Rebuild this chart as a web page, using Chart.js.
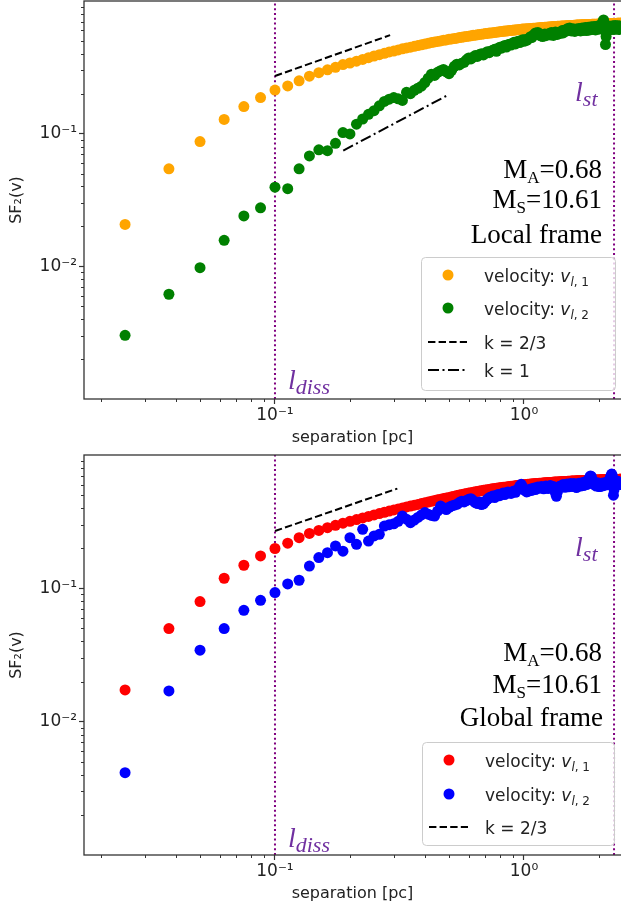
<!DOCTYPE html>
<html>
<head>
<meta charset="utf-8">
<script src="https://cdn.jsdelivr.net/npm/chart.js@4.4.1/dist/chart.umd.min.js"></script>
<style>
html,body{margin:0;padding:0;background:#fff;width:621px;height:911px;overflow:hidden;}
canvas{position:absolute;left:0;}
#top{top:0;}
#bottom{top:450px;}
</style>
</head>
<body>
<canvas id="top" width="621" height="450"></canvas>
<canvas id="bottom" width="621" height="461"></canvas>
<script>
// ---------------- data ----------------
const separations = [
0.025,0.0375,0.05,0.0625,0.075,0.0875,0.1,0.1125,0.125,0.1375,
0.15,0.1625,0.175,0.1875,0.2,0.2125,0.225,0.2375,0.25,0.2625,
0.275,0.2875,0.3,0.3125,0.325,0.3375,0.35,0.3625,0.375,0.3875,
0.4,0.4125,0.425,0.4375,0.45,0.4625,0.475,0.4875,0.5,0.5125,
0.525,0.5375,0.55,0.5625,0.575,0.5875,0.6,0.6125,0.625,0.6375,
0.65,0.6625,0.675,0.6875,0.7,0.7125,0.725,0.7375,0.75,0.7625,
0.775,0.7875,0.8,0.8125,0.825,0.8375,0.85,0.8625,0.875,0.8875,
0.9,0.9125,0.925,0.9375,0.95,0.9625,0.975,0.9875,1,1.0125,
1.025,1.0375,1.05,1.0625,1.075,1.0875,1.1,1.1125,1.125,1.1375,
1.15,1.1625,1.175,1.1875,1.2,1.2125,1.225,1.2375,1.25,1.2625,
1.275,1.2875,1.3,1.3125,1.325,1.3375,1.35,1.3625,1.375,1.3875,
1.4,1.4125,1.425,1.4375,1.45,1.4625,1.475,1.4875,1.5,1.5125,
1.525,1.5375,1.55,1.5625,1.575,1.5875,1.6,1.6125,1.625,1.6375,
1.65,1.6625,1.675,1.6875,1.7,1.7125,1.725,1.7375,1.75,1.7625,
1.775,1.7875,1.8,1.8125,1.825,1.8375,1.85,1.8625,1.875,1.8875,
1.9,1.9125,1.925,1.9375,1.95,1.9625,1.975,1.9875,2,2.0125,
2.025,2.0375,2.05,2.0625,2.075,2.0875,2.1,2.1125,2.125,2.1375,
2.15,2.1625,2.175,2.1875,2.2,2.2125,2.225,2.2375,2.25,2.2625,
2.275,2.2875,2.3,2.3125,2.325,2.3375,2.35,2.3625,2.375,2.3875,
2.4,2.4125,2.425,2.4375,2.45];

// Local frame, velocity v_{l,1} (orange)
const localV1 = [
0.0207,0.0543,0.0871,0.128,0.160,0.187,0.213,0.229,0.250,0.271,
0.288,0.303,0.316,0.332,0.341,0.352,0.363,0.374,0.385,0.394,
0.403,0.413,0.419,0.428,0.436,0.443,0.449,0.455,0.461,0.468,
0.474,0.480,0.486,0.491,0.496,0.500,0.505,0.509,0.514,0.518,
0.521,0.525,0.530,0.533,0.537,0.541,0.543,0.547,0.551,0.553,
0.556,0.560,0.562,0.565,0.568,0.570,0.573,0.575,0.577,0.579,
0.582,0.585,0.587,0.589,0.591,0.593,0.594,0.597,0.598,0.600,
0.601,0.604,0.605,0.607,0.608,0.610,0.612,0.614,0.615,0.616,
0.617,0.618,0.619,0.620,0.621,0.622,0.623,0.624,0.626,0.627,
0.628,0.629,0.630,0.631,0.632,0.633,0.634,0.635,0.637,0.638,
0.638,0.639,0.640,0.641,0.641,0.642,0.643,0.644,0.644,0.645,
0.646,0.647,0.647,0.648,0.649,0.649,0.650,0.651,0.651,0.652,
0.653,0.653,0.654,0.655,0.655,0.656,0.657,0.657,0.658,0.658,
0.659,0.659,0.660,0.660,0.661,0.661,0.662,0.662,0.663,0.663,
0.664,0.664,0.664,0.665,0.665,0.666,0.666,0.666,0.667,0.667,
0.667,0.668,0.668,0.668,0.669,0.669,0.669,0.670,0.670,0.670,
0.671,0.671,0.671,0.672,0.672,0.672,0.673,0.673,0.673,0.674,
0.674,0.674,0.675,0.675,0.675,0.676,0.676,0.676,0.676,0.677,
0.677,0.677,0.677,0.678,0.678,0.678,0.678,0.679,0.679,0.679,
0.679,0.679,0.680,0.680,0.680];

// Local frame, velocity v_{l,2} (green)
const localV2 = [
0.00302,0.00616,0.00977,0.0157,0.0240,0.0276,0.0395,0.0385,0.0543,0.0680,
0.0755,0.0745,0.0846,0.102,0.0995,0.118,0.129,0.140,0.149,0.162,
0.175,0.182,0.187,0.183,0.178,0.205,0.200,0.212,0.220,0.228,
0.243,0.262,0.281,0.275,0.290,0.298,0.305,0.292,0.283,0.300,
0.322,0.334,0.330,0.340,0.345,0.360,0.372,0.366,0.378,0.388,
0.382,0.395,0.401,0.392,0.405,0.415,0.408,0.420,0.425,0.432,
0.418,0.440,0.448,0.441,0.455,0.462,0.450,0.468,0.472,0.466,
0.480,0.488,0.475,0.492,0.498,0.486,0.503,0.510,0.497,0.512,
0.505,0.515,0.525,0.538,0.530,0.548,0.560,0.575,0.568,0.580,
0.562,0.548,0.555,0.540,0.552,0.565,0.548,0.558,0.562,0.570,
0.555,0.578,0.565,0.550,0.572,0.585,0.568,0.560,0.575,0.582,
0.570,0.585,0.598,0.575,0.590,0.605,0.592,0.610,0.620,0.600,
0.625,0.612,0.595,0.608,0.618,0.600,0.590,0.605,0.615,0.598,
0.610,0.620,0.605,0.595,0.612,0.625,0.610,0.600,0.618,0.630,
0.612,0.598,0.620,0.635,0.615,0.605,0.625,0.640,0.620,0.610,
0.628,0.642,0.618,0.605,0.630,0.645,0.625,0.612,0.635,0.650,
0.628,0.645,0.660,0.680,0.700,0.720,0.690,0.600,0.470,0.540,
0.610,0.630,0.640,0.620,0.605,0.630,0.645,0.620,0.610,0.635,
0.650,0.625,0.610,0.640,0.655,0.630,0.615,0.640,0.650,0.625,
0.610,0.635,0.648,0.628,0.620];

// Global frame, velocity v_{l,1} (red)
const globalV1 = [
0.0173,0.0499,0.0795,0.119,0.149,0.175,0.199,0.218,0.240,0.258,
0.272,0.285,0.297,0.308,0.318,0.328,0.337,0.346,0.355,0.364,
0.372,0.380,0.387,0.394,0.401,0.408,0.414,0.420,0.426,0.432,
0.438,0.444,0.450,0.456,0.461,0.466,0.471,0.476,0.481,0.486,
0.491,0.496,0.501,0.506,0.510,0.514,0.518,0.522,0.526,0.530,
0.533,0.537,0.540,0.543,0.546,0.549,0.552,0.555,0.558,0.560,
0.563,0.565,0.568,0.570,0.572,0.574,0.576,0.578,0.580,0.582,
0.584,0.586,0.588,0.590,0.592,0.594,0.595,0.597,0.598,0.600,
0.601,0.603,0.604,0.605,0.607,0.608,0.609,0.610,0.611,0.612,
0.613,0.614,0.615,0.616,0.617,0.618,0.619,0.620,0.621,0.622,
0.623,0.623,0.624,0.625,0.626,0.626,0.627,0.628,0.628,0.629,
0.630,0.630,0.631,0.632,0.632,0.633,0.633,0.634,0.635,0.635,
0.636,0.636,0.637,0.637,0.638,0.638,0.639,0.639,0.640,0.640,
0.641,0.641,0.642,0.642,0.642,0.643,0.643,0.644,0.644,0.644,
0.645,0.645,0.645,0.646,0.646,0.646,0.647,0.647,0.647,0.648,
0.648,0.648,0.649,0.649,0.649,0.649,0.650,0.650,0.650,0.650,
0.651,0.651,0.651,0.651,0.652,0.652,0.652,0.652,0.653,0.653,
0.653,0.653,0.653,0.654,0.654,0.654,0.654,0.654,0.655,0.655,
0.655,0.655,0.655,0.655,0.656,0.656,0.656,0.656,0.656,0.656,
0.656,0.657,0.657,0.657,0.657];

// Global frame, velocity v_{l,2} (blue)
const globalV2 = [
0.00414,0.0170,0.0344,0.0499,0.0684,0.0813,0.0929,0.108,0.115,0.147,
0.170,0.185,0.208,0.190,0.240,0.214,0.277,0.226,0.247,0.254,
0.293,0.300,0.305,0.318,0.348,0.330,0.311,0.325,0.340,0.355,
0.370,0.360,0.352,0.348,0.380,0.414,0.400,0.390,0.405,0.415,
0.420,0.427,0.440,0.450,0.445,0.455,0.465,0.470,0.455,0.440,
0.432,0.445,0.425,0.430,0.450,0.465,0.478,0.485,0.492,0.480,
0.500,0.505,0.495,0.510,0.518,0.505,0.520,0.528,0.522,0.515,
0.530,0.538,0.525,0.545,0.560,0.585,0.603,0.575,0.550,0.540,
0.528,0.534,0.548,0.555,0.542,0.560,0.565,0.550,0.568,0.575,
0.562,0.570,0.580,0.570,0.558,0.575,0.585,0.572,0.560,0.578,
0.590,0.575,0.565,0.580,0.560,0.520,0.490,0.530,0.565,0.580,
0.585,0.575,0.590,0.600,0.585,0.572,0.590,0.605,0.590,0.578,
0.595,0.610,0.592,0.580,0.598,0.612,0.595,0.580,0.570,0.585,
0.600,0.615,0.598,0.585,0.605,0.620,0.600,0.590,0.610,0.630,
0.612,0.600,0.620,0.640,0.660,0.680,0.697,0.690,0.660,0.630,
0.610,0.600,0.615,0.600,0.585,0.600,0.618,0.600,0.580,0.590,
0.580,0.600,0.615,0.600,0.588,0.605,0.620,0.605,0.595,0.610,
0.625,0.610,0.600,0.620,0.640,0.660,0.680,0.700,0.720,0.700,
0.620,0.500,0.550,0.610,0.630,0.615,0.600,0.620,0.635,0.615,
0.600,0.620,0.610,0.600,0.605];

// reference power-law guide lines (end points)
const guideLocalK23X = [0.1, 0.29];
const guideLocalK23Y = [0.272, 0.553];
const guideLocalK1X  = [0.188, 0.489];
const guideLocalK1Y  = [0.0746, 0.193];
const guideGlobalK23X = [0.1, 0.31];
const guideGlobalK23Y = [0.269, 0.56];

// characteristic scales
const lDiss = 0.1;
const lSt = 2.3;

// axis ranges and ticks
const xRange = [0.0171, 2.453];
const yRange = [0.001, 1.0];
const xTickValues = [0.02,0.03,0.04,0.05,0.06,0.07,0.08,0.09,0.1,0.2,0.3,0.4,0.5,0.6,0.7,0.8,0.9,1,2];
const xTickLabelValues = [0.1, 1];
const xTickLabels = ['10\u207B\u00B9', '10\u2070'];
const yTickValues = [0.002,0.003,0.004,0.005,0.006,0.007,0.008,0.009,0.01,0.02,0.03,0.04,0.05,0.06,0.07,0.08,0.09,0.1,0.2,0.3,0.4,0.5,0.6,0.7,0.8,0.9];
const yTickLabelValues = [0.01, 0.1];
const yTickLabels = ['10\u207B\u00B2', '10\u207B\u00B9'];

// ---------------- styling helpers ----------------
const SANS = '"DejaVu Sans"';
const SERIF = '"Liberation Serif"';
const LINE_PURPLE = '#800080';
const TEXT_PURPLE = '#7030A0';
const AX = '#333333';
const TXT = '#222222';

function findLabel(value, vals, labels) {
  for (let i = 0; i < vals.length; i++) {
    if (Math.abs(value - vals[i]) / vals[i] < 1e-6) return labels[i];
  }
  return '';
}
function isIn(value, vals) {
  return vals.some(v => Math.abs(value - v) / v < 1e-6);
}
function zeroPad(s) {
  s.paddingTop = 0; s.paddingBottom = 0; s.paddingLeft = 0; s.paddingRight = 0;
}

function drawRich(ctx, x, y, parts, align, color) {
  let w = 0;
  for (const p of parts) { ctx.font = p.font; w += ctx.measureText(p.t).width; }
  let cx = align === 'right' ? x - w : x;
  ctx.textAlign = 'left';
  ctx.textBaseline = 'alphabetic';
  for (const p of parts) {
    ctx.font = p.font;
    ctx.fillStyle = p.color || color;
    ctx.fillText(p.t, cx, y + (p.dy || 0));
    cx += ctx.measureText(p.t).width;
  }
}

function machParts(letter, value) {
  return [
    {t: 'M', font: '27px ' + SERIF},
    {t: letter, font: '17px ' + SERIF, dy: 5},
    {t: '=' + value, font: '27px ' + SERIF}
  ];
}
function scaleParts(sub) {
  return [
    {t: 'l', font: 'italic 28px ' + SERIF},
    {t: sub, font: 'italic 22px ' + SERIF, dy: 5}
  ];
}
function velParts(idx) {
  return [
    {t: 'velocity: ', font: '17px ' + SANS},
    {t: 'v', font: 'italic 17px ' + SANS},
    {t: 'l', font: 'italic 12px ' + SANS, dy: 4},
    {t: ', ' + idx, font: '12px ' + SANS, dy: 4}
  ];
}

function makeDecorPlugin(cfg) {
  return {
    id: 'decor',
    afterDraw(chart) {
      const ctx = chart.ctx;
      const ca = chart.chartArea;
      const xs = chart.scales.x, ys = chart.scales.y;
      ctx.save();
      // minor ticks
      ctx.strokeStyle = AX; ctx.lineWidth = 1;
      ctx.beginPath();
      for (const t of xs.ticks) {
        if (t.major) continue;
        const px = Math.round(xs.getPixelForValue(t.value)) + 0.5;
        ctx.moveTo(px, ca.bottom); ctx.lineTo(px, ca.bottom + 3);
      }
      for (const t of ys.ticks) {
        if (t.major) continue;
        const py = Math.round(ys.getPixelForValue(t.value)) + 0.5;
        ctx.moveTo(ca.left, py); ctx.lineTo(ca.left - 3, py);
      }
      ctx.stroke();
      // frame (spines)
      ctx.strokeStyle = AX; ctx.lineWidth = 1.3;
      ctx.strokeRect(ca.left, ca.top, ca.right - ca.left + 2, ca.bottom - ca.top);
      // annotation texts
      for (const tx of cfg.texts) drawRich(ctx, tx.x, tx.y, tx.parts, tx.align, tx.color);
      const xd = xs.getPixelForValue(lDiss), xst = xs.getPixelForValue(lSt);
      drawRich(ctx, xd + 13, cfg.lDissY, scaleParts('diss'), 'left', TEXT_PURPLE);
      drawRich(ctx, xst - 39, cfg.lStY, scaleParts('st'), 'left', TEXT_PURPLE);
      // legend
      const lg = cfg.legend;
      ctx.beginPath();
      const r = 4, bx = lg.x + 0.5, by = lg.y + 0.5, bw = lg.w, bh = lg.h;
      ctx.moveTo(bx + r, by);
      ctx.lineTo(bx + bw - r, by); ctx.arcTo(bx + bw, by, bx + bw, by + r, r);
      ctx.lineTo(bx + bw, by + bh - r); ctx.arcTo(bx + bw, by + bh, bx + bw - r, by + bh, r);
      ctx.lineTo(bx + r, by + bh); ctx.arcTo(bx, by + bh, bx, by + bh - r, r);
      ctx.lineTo(bx, by + r); ctx.arcTo(bx, by, bx + r, by, r);
      ctx.closePath();
      ctx.fillStyle = 'rgba(255,255,255,0.8)';
      ctx.fill();
      ctx.strokeStyle = '#cccccc'; ctx.lineWidth = 1;
      ctx.stroke();
      const items = chart.data.datasets.filter(d => d.legendParts).sort((a, b) => a.legendRank - b.legendRank);
      items.forEach((d, i) => {
        const ry = lg.rows[i];
        if (d.showLine) {
          ctx.strokeStyle = d.borderColor; ctx.lineWidth = d.borderWidth;
          ctx.setLineDash(d.borderDash || []);
          ctx.beginPath(); ctx.moveTo(lg.x + 7, ry); ctx.lineTo(lg.x + 46, ry); ctx.stroke();
          ctx.setLineDash([]);
        } else {
          ctx.fillStyle = d.pointBackgroundColor;
          ctx.beginPath(); ctx.arc(lg.x + 27, ry, 5.5, 0, Math.PI * 2); ctx.fill();
        }
        drawRich(ctx, lg.x + 63, ry + 7, d.legendParts, 'left', TXT);
      });
      ctx.restore();
    }
  };
}

function scatterSet(values, color, rank, parts, order) {
  return {
    data: separations.map((x, i) => ({x: x, y: values[i]})),
    pointBackgroundColor: color, pointBorderColor: color, backgroundColor: color,
    pointRadius: 5.5, pointBorderWidth: 0, pointHoverRadius: 5.5,
    showLine: false, order: order, legendParts: parts, legendRank: rank
  };
}
function guideSet(xv, yv, dash, rank, parts) {
  return {
    data: xv.map((x, i) => ({x: x, y: yv[i]})),
    showLine: true, borderColor: '#000000', borderWidth: 2, borderDash: dash,
    pointRadius: 0, fill: false, order: 0, legendParts: parts, legendRank: rank
  };
}
function vlineSet(x) {
  return {
    data: [{x: x, y: yRange[0]}, {x: x, y: yRange[1]}],
    showLine: true, borderColor: LINE_PURPLE, borderWidth: 2, borderDash: [2, 2.8],
    borderCapStyle: 'butt', pointRadius: 0, fill: false, order: 20
  };
}

function makeChart(id, cfg) {
  const canvas = document.getElementById(id);
  return new Chart(canvas, {
    type: 'scatter',
    data: {datasets: cfg.datasets},
    options: {
      responsive: false, animation: false, events: [],
      layout: {autoPadding: false, padding: {top: cfg.padTop, left: 0, right: 0, bottom: 0}},
      plugins: {legend: {display: false}, tooltip: {enabled: false}},
      scales: {
        x: {
          type: 'logarithmic', position: 'bottom', min: xRange[0], max: xRange[1],
          afterBuildTicks: s => { s.ticks = xTickValues.map(v => ({value: v, major: isIn(v, xTickLabelValues)})); },
          afterFit: s => { s.height = cfg.xAxisHeight; zeroPad(s); },
          ticks: {autoSkip: false, maxRotation: 0, minRotation: 0, padding: 1, color: TXT,
                  font: {family: 'DejaVu Sans', size: 17},
                  callback: v => findLabel(v, xTickLabelValues, xTickLabels)},
          grid: {display: true, drawOnChartArea: false, drawTicks: true, tickLength: 5, tickWidth: 1.2,
                 tickColor: c => (c.tick && c.tick.major) ? AX : 'rgba(0,0,0,0)'},
          border: {display: false},
          title: {display: true, text: 'separation [pc]', color: TXT,
                  font: {family: 'DejaVu Sans', size: 16}, padding: {top: 0, bottom: cfg.xTitlePad}}
        },
        y: {
          type: 'logarithmic', position: 'left', min: yRange[0], max: yRange[1],
          afterBuildTicks: s => { s.ticks = yTickValues.map(v => ({value: v, major: isIn(v, yTickLabelValues)})); },
          afterFit: s => { s.width = 84; zeroPad(s); },
          ticks: {autoSkip: false, padding: 2, color: TXT,
                  font: {family: 'DejaVu Sans', size: 17},
                  callback: v => findLabel(v, yTickLabelValues, yTickLabels)},
          grid: {display: true, drawOnChartArea: false, drawTicks: true, tickLength: 5, tickWidth: 1.2,
                 tickColor: c => (c.tick && c.tick.major) ? AX : 'rgba(0,0,0,0)'},
          border: {display: false},
          title: {display: true, text: 'SF\u2082(v)', color: TXT,
                  font: {family: 'DejaVu Sans', size: 16}, padding: {top: 7, bottom: 0}}
        }
      }
    },
    plugins: [makeDecorPlugin(cfg)]
  });
}

// ---------------- top panel: local frame ----------------
makeChart('top', {
  padTop: 1, xAxisHeight: 51, xTitlePad: 3,
  datasets: [
    vlineSet(lDiss), vlineSet(lSt),
    scatterSet(localV1, '#FFA500', 0, velParts('1'), 12),
    scatterSet(localV2, '#008000', 1, velParts('2'), 11),
    guideSet(guideLocalK23X, guideLocalK23Y, [7.4, 3.2], 2, [{t: 'k = 2/3', font: '17px ' + SANS}]),
    guideSet(guideLocalK1X, guideLocalK1Y, [11, 3.5, 2, 3.5], 3, [{t: 'k = 1', font: '17px ' + SANS}])
  ],
  texts: [
    {x: 602, y: 178, align: 'right', color: '#000', parts: machParts('A', '0.68')},
    {x: 602, y: 208, align: 'right', color: '#000', parts: machParts('S', '10.61')},
    {x: 602, y: 243, align: 'right', color: '#000', parts: [{t: 'Local frame', font: '27px ' + SERIF}]}
  ],
  lDissY: 389, lStY: 101,
  legend: {x: 421, y: 257, w: 194, h: 133, rows: [275, 308, 342, 370]}
});

// ---------------- bottom panel: global frame ----------------
makeChart('bottom', {
  padTop: 5, xAxisHeight: 56, xTitlePad: 8,
  datasets: [
    vlineSet(lDiss), vlineSet(lSt),
    scatterSet(globalV1, '#FF0000', 0, velParts('1'), 12),
    scatterSet(globalV2, '#0000FF', 1, velParts('2'), 11),
    guideSet(guideGlobalK23X, guideGlobalK23Y, [7.4, 3.2], 2, [{t: 'k = 2/3', font: '17px ' + SANS}])
  ],
  texts: [
    {x: 602, y: 211, align: 'right', color: '#000', parts: machParts('A', '0.68')},
    {x: 602, y: 243, align: 'right', color: '#000', parts: machParts('S', '10.61')},
    {x: 603, y: 276, align: 'right', color: '#000', parts: [{t: 'Global frame', font: '27px ' + SERIF}]}
  ],
  lDissY: 397, lStY: 106,
  legend: {x: 422, y: 292, w: 192, h: 103, rows: [310, 344, 377]}
});
</script>
</body>
</html>
